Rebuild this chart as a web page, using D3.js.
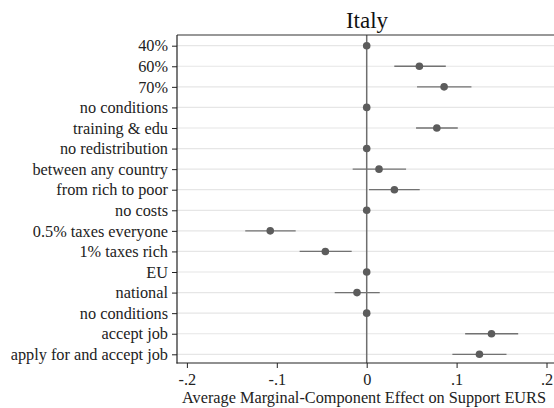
<!DOCTYPE html>
<html><head><meta charset="utf-8">
<script src="https://cdn.jsdelivr.net/npm/d3@7"></script>
<style>body{margin:0;background:#fff}svg{display:block}</style>
</head><body>
<script>
const categories = ["40%","60%","70%","no conditions","training & edu","no redistribution","between any country","from rich to poor","no costs","0.5% taxes everyone","1% taxes rich","EU","national","no conditions","accept job","apply for and accept job"];
const estimates = [0, 0.0586, 0.0861, 0, 0.078, 0, 0.0137, 0.0308, 0, -0.1073, -0.046, 0, -0.0108, 0, 0.1388, 0.1254];
const ciLow =  [null, 0.0307, 0.056, null, 0.0549, null, -0.0156, 0.0026, null, -0.1351, -0.0746, null, -0.0356, null, 0.1095, 0.0953];
const ciHigh = [null, 0.088, 0.1165, null, 0.1013, null, 0.0438, 0.059, null, -0.079, -0.0167, null, 0.0145, null, 0.1685, 0.1555];
const xTicks = [-0.2, -0.1, 0, 0.1, 0.2];
const xTickLabels = ["-.2", "-.1", "0", ".1", ".2"];
const title = "Italy";
const xTitle = "Average Marginal-Component Effect on Support EURS";

(function () {
const W = 554, H = 408;
const pL = 177, pT = 35, pB = 363, pR = 554;
const svg = d3.select("body").append("svg").attr("width", W).attr("height", H);
const font = "'Liberation Serif','Times New Roman',serif";
const fs = 16.3;

const x = d3.scaleLinear().domain([-0.2, 0.2]).range([186.9, 546.5]);
const idx = categories.map((d, i) => i);
const y = d3.scalePoint().domain(idx).range([45.7, 354.3]);

svg.append("g").selectAll("line").data(idx).join("line")
  .attr("x1", pL).attr("x2", pR)
  .attr("y1", d => y(d)).attr("y2", d => y(d))
  .attr("stroke", "#e6e6e6").attr("stroke-width", 1.2);

svg.append("line").attr("x1", x(0)).attr("x2", x(0)).attr("y1", pT).attr("y2", pB)
  .attr("stroke", "#6e6e6e").attr("stroke-width", 1.5);

svg.append("g").selectAll("line").data(idx.filter(i => ciLow[i] !== null)).join("line")
  .attr("x1", i => x(ciLow[i])).attr("x2", i => x(ciHigh[i]))
  .attr("y1", i => y(i)).attr("y2", i => y(i))
  .attr("stroke", "#727272").attr("stroke-width", 1.3);

svg.append("g").selectAll("circle").data(idx).join("circle")
  .attr("cx", i => x(estimates[i])).attr("cy", i => y(i)).attr("r", 3.8)
  .attr("fill", "#5c5c5c");

svg.append("line").attr("x1", pL).attr("x2", pR).attr("y1", pT).attr("y2", pT)
  .attr("stroke", "#333").attr("stroke-width", 1.2);

const yAxis = svg.append("g").attr("transform", `translate(${pL},0)`)
  .call(d3.axisLeft(y).tickFormat(i => categories[i]).tickSize(5).tickPadding(4));
yAxis.select(".domain").remove();
svg.append("line").attr("x1", pL).attr("x2", pL).attr("y1", pT).attr("y2", pB + 0.5)
  .attr("stroke", "#222").attr("stroke-width", 1.2);
yAxis.selectAll("text").attr("font-family", font).attr("font-size", fs).attr("fill", "#222");
yAxis.selectAll(".tick line").attr("stroke", "#222");

const xAxis = svg.append("g").attr("transform", `translate(0,${pB})`)
  .call(d3.axisBottom(x).tickValues(xTicks).tickFormat((d, i) => xTickLabels[i]).tickSize(5).tickPadding(5));
xAxis.select(".domain").remove();
svg.append("line").attr("x1", pL - 0.5).attr("x2", pR).attr("y1", pB).attr("y2", pB)
  .attr("stroke", "#222").attr("stroke-width", 1.2);
xAxis.selectAll("text").attr("font-family", font).attr("font-size", fs).attr("fill", "#222");
xAxis.selectAll(".tick line").attr("stroke", "#222");

svg.append("text").attr("x", 364).attr("y", 403).attr("text-anchor", "middle")
  .attr("font-family", font).attr("font-size", fs).attr("fill", "#222").text(xTitle);
svg.append("text").attr("x", 367).attr("y", 27.5).attr("text-anchor", "middle")
  .attr("font-family", font).attr("font-size", 23).attr("fill", "#111").text(title);
})();
</script>
</body></html>
